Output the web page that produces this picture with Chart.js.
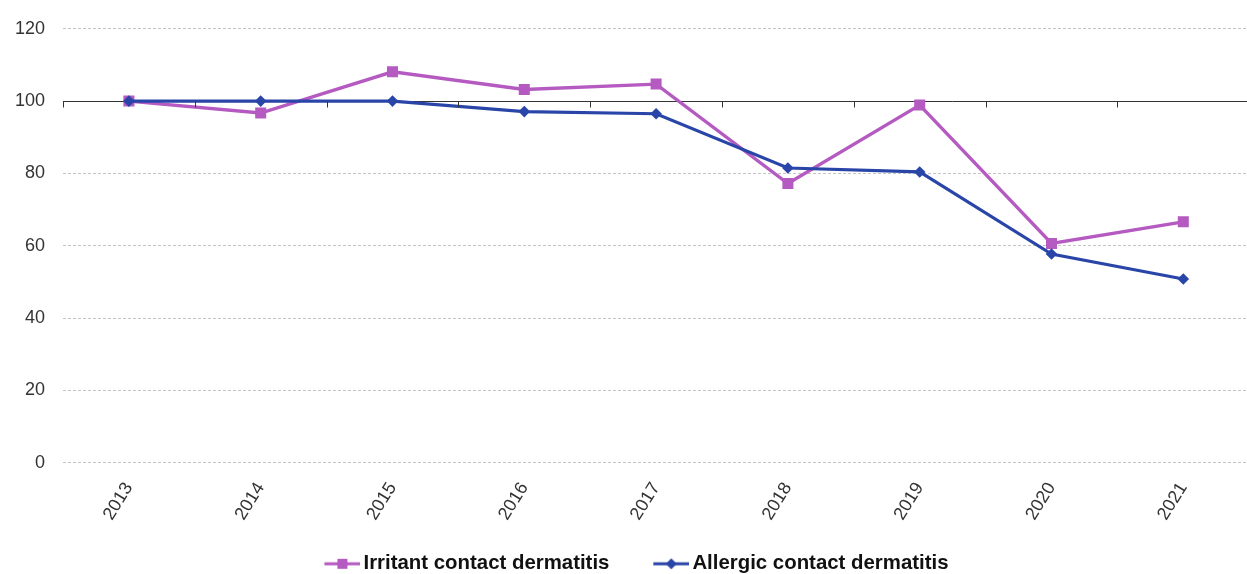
<!DOCTYPE html>
<html>
<head>
<meta charset="utf-8">
<script src="https://cdn.jsdelivr.net/npm/chart.js@4/dist/chart.umd.min.js"></script>
<style>
  html, body { margin: 0; padding: 0; background: #ffffff; overflow: hidden; }
  #wrap { position: relative; width: 1257px; height: 584px; }
</style>
</head>
<body>
<div id="wrap"><canvas id="chart"></canvas></div>
<script>
// Index of contact dermatitis cases, 2013 = 100
const years = ['2013', '2014', '2015', '2016', '2017', '2018', '2019', '2020', '2021'];
const irritant = [100, 96.7, 108.1, 103.2, 104.7, 77.2, 98.9, 60.6, 66.6];
const allergic = [100, 100, 100, 97.1, 96.5, 81.5, 80.4, 57.7, 50.8];
const yTicks = [0, 20, 40, 60, 80, 100, 120];
const seriesNames = ['Irritant contact dermatitis', 'Allergic contact dermatitis'];

const PURPLE = '#b55ac1';
const BLUE = '#2a45a8';
const FONT = "'Liberation Sans', Arial, sans-serif";
const BASE = 100;

// Legend swatch: a short line with the series marker, placed at the right
// end of a wider transparent canvas so it sits just before the label text
function swatch(color, style) {
  const W = 59, L = 36, x0 = W - L, cx = x0 + L / 2;
  const c = document.createElement('canvas');
  c.width = W; c.height = 14;
  const g = c.getContext('2d');
  g.strokeStyle = color; g.lineWidth = 3;
  g.beginPath(); g.moveTo(x0, 7); g.lineTo(W, 7); g.stroke();
  g.fillStyle = color;
  if (style === 'rect') {
    g.fillRect(cx - 5, 2, 10, 10);
  } else {
    g.beginPath();
    g.moveTo(cx, 1.5); g.lineTo(cx + 5.5, 7); g.lineTo(cx, 12.5); g.lineTo(cx - 5.5, 7);
    g.closePath(); g.fill();
  }
  return c;
}

// Small downward ticks on the base line at each category boundary
const baseTicks = {
  id: 'baseTicks',
  afterDatasetsDraw(chart) {
    const { x, y } = chart.scales;
    const yy = Math.round(y.getPixelForValue(BASE)) + 0.5;
    const step = x.getPixelForValue(1) - x.getPixelForValue(0);
    const ctx = chart.ctx;
    ctx.save();
    ctx.strokeStyle = '#333333';
    ctx.lineWidth = 1;
    ctx.beginPath();
    for (let i = 0; i <= years.length; i++) {
      const px = Math.round(x.getPixelForValue(i) - step / 2) + 0.5;
      ctx.moveTo(px, yy);
      ctx.lineTo(px, yy + 6);
    }
    ctx.stroke();
    ctx.restore();
  }
};

const styles = ['rect', 'rectRot'];
const colors = [PURPLE, BLUE];

new Chart(document.getElementById('chart'), {
  type: 'line',
  data: {
    labels: years,
    datasets: [
      {
        label: seriesNames[0],
        data: irritant,
        borderColor: PURPLE,
        backgroundColor: PURPLE,
        borderWidth: 3.4,
        pointStyle: 'rect',
        pointRadius: 7.8,
        pointBorderWidth: 0,
        tension: 0,
        order: 1
      },
      {
        label: seriesNames[1],
        data: allergic,
        borderColor: BLUE,
        backgroundColor: BLUE,
        borderWidth: 3.2,
        pointStyle: 'rectRot',
        pointRadius: 5.8,
        pointBorderWidth: 0,
        tension: 0,
        order: 0
      }
    ]
  },
  options: {
    responsive: true,
    maintainAspectRatio: false,
    animation: false,
    layout: { padding: { top: 28, right: 0, bottom: 0, left: 0 } },
    plugins: {
      tooltip: { enabled: false },
      legend: {
        position: 'bottom',
        labels: {
          usePointStyle: true,
          pointStyleWidth: 44.8,
          padding: 28,
          color: '#111111',
          font: { family: FONT, size: 20.4, weight: 'bold' },
          generateLabels(chart) {
            return chart.data.datasets.map((ds, i) => ({
              text: ds.label,
              fillStyle: colors[i],
              strokeStyle: colors[i],
              lineWidth: 0,
              pointStyle: swatch(colors[i], styles[i]),
              hidden: false,
              datasetIndex: i,
              fontColor: '#111111'
            }));
          }
        }
      }
    },
    scales: {
      x: {
        offset: true,
        grid: { display: false, drawTicks: false },
        border: { display: false },
        ticks: {
          minRotation: 58,
          maxRotation: 58,
          padding: 16,
          color: '#333333',
          font: { family: FONT, size: 18 }
        },
        afterFit(s) { s.height = 63; }
      },
      y: {
        min: 0,
        max: 120,
        afterBuildTicks(s) { s.ticks = yTicks.map(v => ({ value: v })); },
        grid: {
          drawTicks: false,
          lineWidth: 1,
          color: c => (c.tick && c.tick.value === BASE) ? '#333333' : '#c4c4c4'
        },
        border: {
          display: false,
          dash: c => (c.tick && c.tick.value === BASE) ? [] : [3, 2]
        },
        ticks: {
          padding: 18,
          color: '#333333',
          font: { family: FONT, size: 18 }
        },
        afterFit(s) { s.width = 63; }
      }
    }
  },
  plugins: [baseTicks]
});
</script>
</body>
</html>
